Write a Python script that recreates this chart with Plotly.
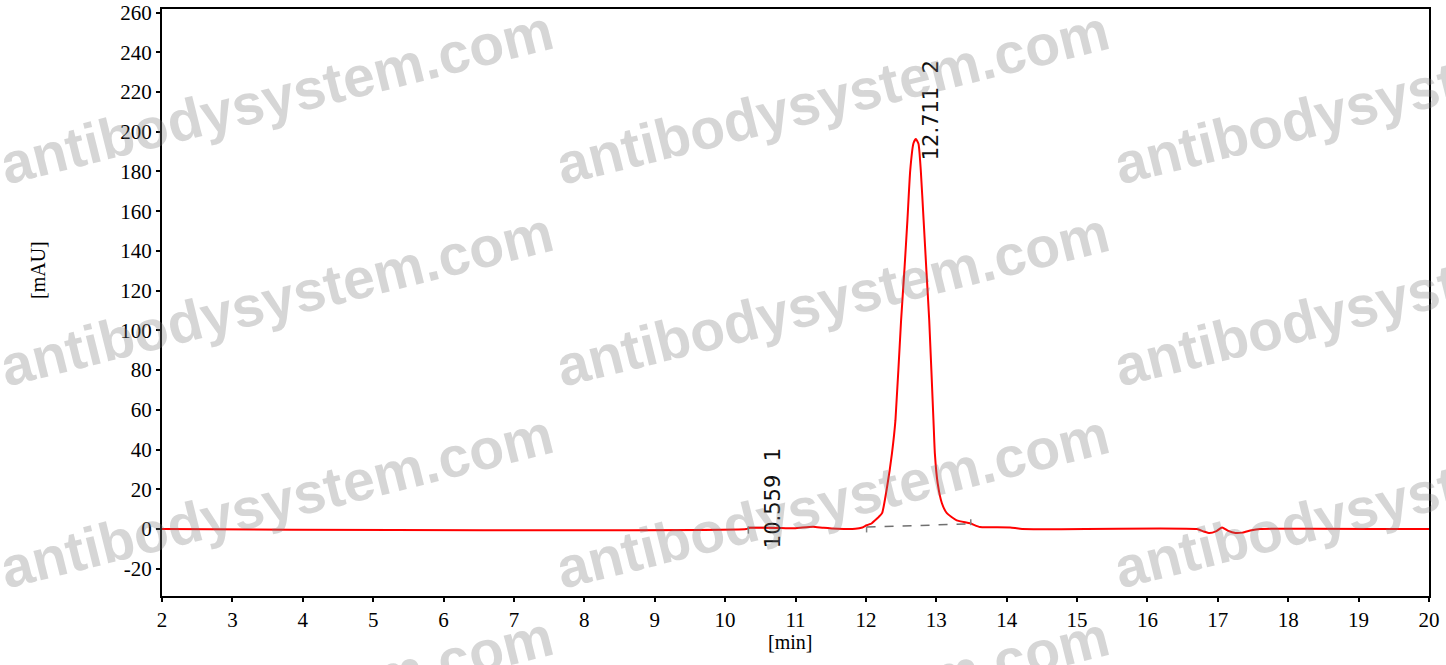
import plotly.graph_objects as go

# Chromatogram trace (time in min, absorbance in mAU)
time_min = [2.0, 10.30, 10.35, 10.80, 11.00, 11.10, 11.25, 11.40, 11.60, 11.85, 11.95,
            12.01, 12.08, 12.13, 12.18, 12.23, 12.30, 12.37, 12.42, 12.50, 12.55, 12.59,
            12.63, 12.676, 12.71, 12.747, 12.78, 12.82, 12.86, 12.90, 12.96, 12.98, 13.02,
            13.08, 13.15, 13.29, 13.48, 13.62, 13.80, 14.05, 14.12, 14.22, 16.70, 16.80,
            16.88, 16.98, 17.06, 17.14, 17.25, 17.35, 17.48, 17.60, 20.0]
signal_mau = [0.0, 0.0, 0.6, 0.5, 0.4, 0.8, 1.2, 0.6, 0.1, 0.1, 0.8,
              1.9, 2.8, 4.4, 6.0, 8.0, 21.0, 38.0, 54.8, 105.0, 132.0, 155.5,
              180.6, 194.2, 196.3, 194.0, 180.6, 155.5, 130.0, 105.0, 54.8, 38.0, 23.0,
              13.0, 8.0, 4.4, 2.9, 1.0, 0.9, 0.8, 0.5, 0.0, 0.0, -1.2,
              -2.0, -1.0, 0.8, -0.8, -2.0, -1.8, -0.6, 0.0, 0.0]

# Integration baselines (start/end of each peak)
peak_names = ["10.559  1", "12.711  2"]
peak_times = [10.559, 12.711]
base1_t = [10.33, 10.78]
base1_v = [0.8, 0.8]
base2_t = [12.01, 13.49]
base2_v = [1.0, 2.6]

x_ticks = list(range(2, 21))
y_ticks = list(range(-20, 261, 20))

watermark = "antibodysystem.com"

W, H = 1446, 665
ML, MR, MT, MB = 162, 17, 9, 69
PW, PH = W - ML - MR, H - MT - MB
SERIF = "Liberation Serif, Times New Roman, serif"


def px_to_paper(px, py):
    return (px - ML) / PW, (H - MB - py) / PH


fig = go.Figure()

fig.add_trace(go.Scatter(x=base1_t, y=base1_v, mode="lines",
                         line=dict(color="#808080", width=1.5), hoverinfo="skip"))
fig.add_trace(go.Scatter(x=base2_t, y=base2_v, mode="lines",
                         line=dict(color="#707070", width=1.5, dash="dash"), hoverinfo="skip"))
fig.add_trace(go.Scatter(x=time_min, y=signal_mau, mode="lines",
                         line=dict(color="#ff0000", width=2, shape="spline", smoothing=0.5),
                         hoverinfo="x+y"))

# small vertical tick marks at baseline start/end
for t, v0, v1 in [(10.33, 1.4, -2.3), (12.01, 1.0, -1.7), (13.49, 4.9, 1.9)]:
    fig.add_shape(type="line", x0=t, x1=t, y0=v0, y1=v1,
                  line=dict(color="#808080", width=1.5), layer="above")

# peak labels
label_pos = [(10.69, 15.4), (12.93, 211.0)]
for name, (lx, ly) in zip(peak_names, label_pos):
    fig.add_annotation(x=lx, y=ly, xref="x", yref="y", text=name, showarrow=False,
                       textangle=-90, xanchor="center", yanchor="middle",
                       font=dict(family="DejaVu Sans", size=21, color="#111111"))

# axis titles
tx, ty = px_to_paper(790, 642)
fig.add_annotation(x=tx, y=ty, xref="paper", yref="paper", text="[min]", showarrow=False,
                   xanchor="center", yanchor="middle",
                   font=dict(family=SERIF, size=20, color="black"))
tx, ty = px_to_paper(38, 270)
fig.add_annotation(x=tx, y=ty, xref="paper", yref="paper", text="[mAU]", showarrow=False,
                   textangle=-90, xanchor="center", yanchor="middle",
                   font=dict(family=SERIF, size=20, color="black"))

# watermarks
for c in range(3):
    for r in range(4):
        cx = 276 + 557 * c
        cy = 97 + 202 * r
        wx, wy = px_to_paper(cx, cy)
        fig.add_annotation(x=wx, y=wy, xref="paper", yref="paper",
                           text=watermark, showarrow=False, textangle=-14,
                           xanchor="center", yanchor="middle",
                           font=dict(family="Liberation Sans", size=57, weight="bold",
                                     color="rgba(120,120,120,0.30)"))

axis_common = dict(showgrid=False, zeroline=False, showline=True, linecolor="black",
                   linewidth=2, mirror=True, ticks="outside", ticklen=4, tickwidth=2,
                   tickcolor="black", automargin=False,
                   tickfont=dict(family=SERIF, size=21, color="black"))

fig.update_layout(
    width=W, height=H,
    margin=dict(l=ML, r=MR, t=MT, b=MB, autoexpand=False),
    paper_bgcolor="white", plot_bgcolor="white",
    showlegend=False,
    font=dict(family=SERIF, size=21, color="black"),
    xaxis=dict(range=[2, 20], tickvals=x_ticks, ticktext=[str(v) for v in x_ticks],
               **axis_common),
    yaxis=dict(range=[-33.7, 261.8], tickvals=y_ticks, ticktext=[str(v) for v in y_ticks],
               **axis_common),
)

fig.write_html("out.html", config={"displayModeBar": False},
               post_script="document.body.style.margin='0';")
